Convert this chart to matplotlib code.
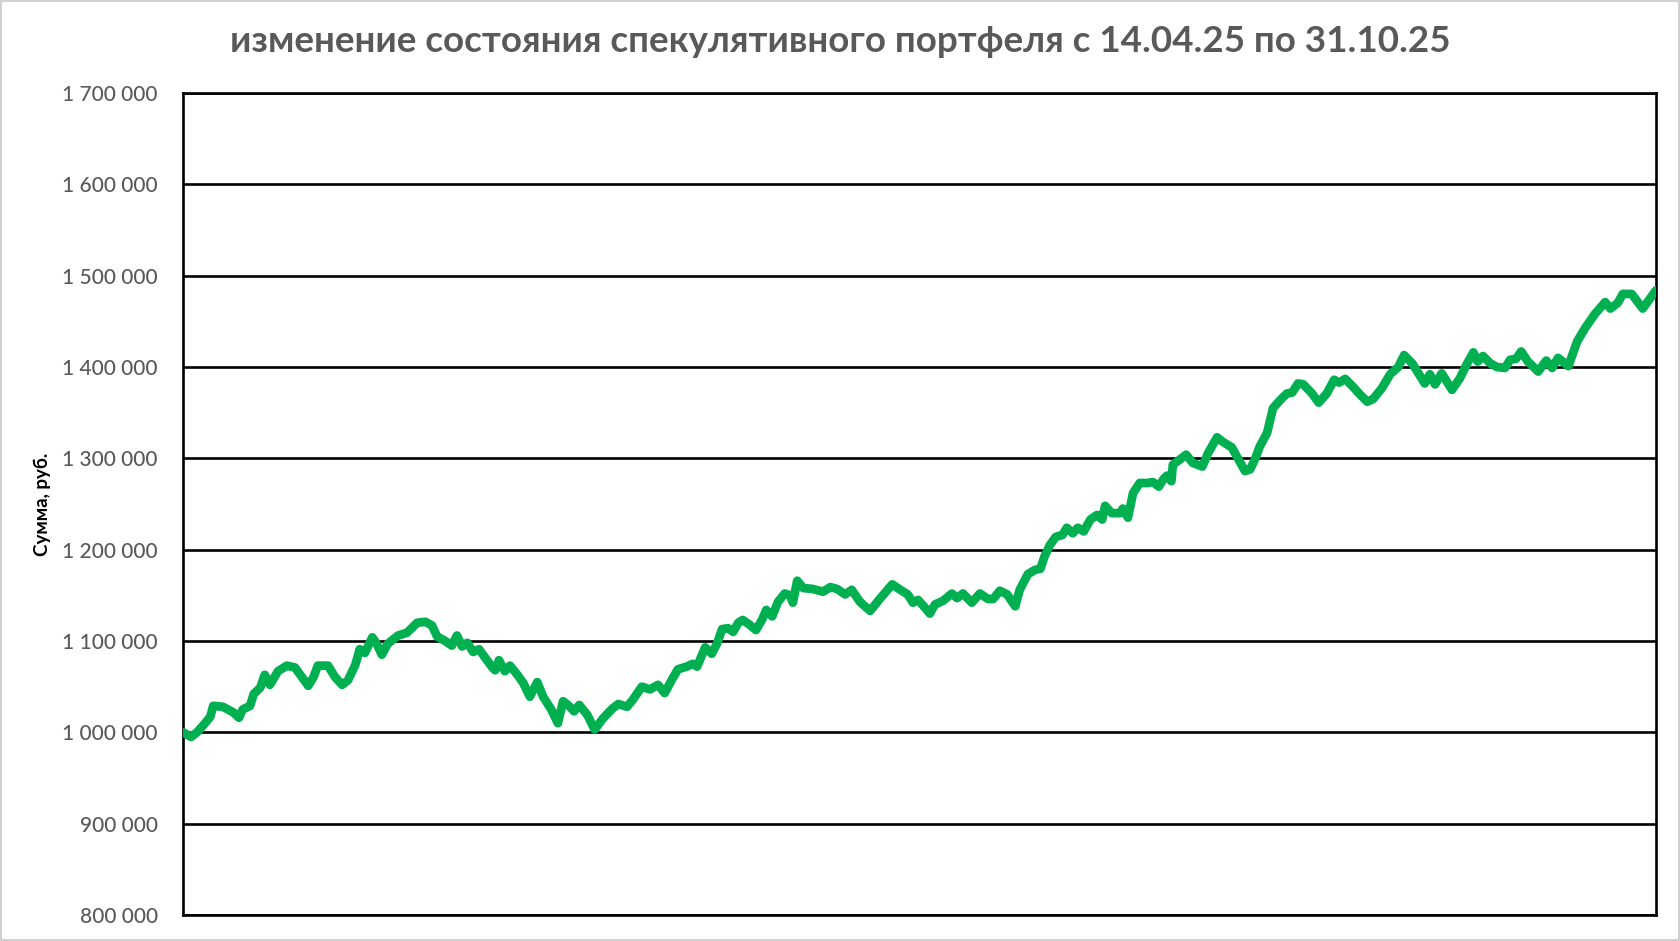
import matplotlib
matplotlib.use("Agg")
import matplotlib.pyplot as plt
from matplotlib.ticker import FuncFormatter, MultipleLocator

# day offset since 14.04.25 and portfolio value (rub.)
days = [0.0, 1.1, 1.9, 3.0, 3.7, 4.1, 5.4, 6.8, 7.6, 8.1, 9.1, 9.6, 10.5, 11.1, 11.8, 12.9,
        14.1, 15.2, 16.2, 17.0, 17.7, 18.3, 19.7, 20.6, 21.6, 22.4, 23.4, 24.0, 24.7, 25.7,
        26.3, 27.0, 27.8, 29.2, 30.4, 31.8, 32.9, 33.8, 34.5, 35.6, 36.5, 37.2, 37.9, 38.6,
        39.4, 40.2, 41.0, 42.0, 42.4, 42.9, 43.7, 44.4, 45.4, 46.2, 47.1, 48.1, 48.9, 50.0,
        50.9, 51.6, 52.4, 53.1, 53.8, 54.9, 55.9, 57.0, 58.3, 59.1, 60.3, 61.1, 62.3, 63.4,
        64.5, 65.4, 66.4, 67.2, 68.4, 69.2, 69.8, 70.9, 71.8, 72.5, 73.2, 74.0, 74.7, 75.4,
        76.0, 76.9, 77.8, 78.6, 79.2, 80.0, 80.8, 81.7, 82.4, 82.8, 83.4, 84.2, 85.5, 86.9,
        87.9, 88.8, 89.9, 90.8, 91.9, 93.3, 94.6, 96.3, 97.4, 98.4, 99.1, 99.8, 100.8, 101.4,
        102.1, 103.2, 104.4, 105.1, 105.9, 107.1, 108.2, 109.3, 110.0, 110.9, 111.9, 113.0,
        113.6, 114.7, 115.7, 116.4, 117.0, 117.7, 118.5, 119.4, 120.0, 120.8, 121.5, 122.3,
        123.2, 124.1, 124.8, 125.2, 126.1, 127.2, 127.6, 128.3, 129.0, 129.9, 130.9, 131.7,
        132.5, 133.1, 133.6, 134.2, 134.4, 135.4, 136.2, 137.1, 138.4, 139.2, 140.4, 141.2,
        142.4, 143.3, 144.2, 144.9, 145.6, 146.2, 147.2, 148.0, 149.0, 149.9, 150.6, 151.4,
        152.1, 153.3, 154.2, 155.3, 156.3, 157.0, 157.8, 158.9, 159.8, 160.8, 161.6, 162.8,
        163.9, 165.0, 165.8, 166.9, 167.6, 168.6, 169.3, 170.0, 170.9, 172.3, 173.4, 174.3,
        175.2, 175.8, 176.5, 177.5, 178.4, 179.5, 180.2, 181.0, 181.7, 182.6, 184.0, 185.1,
        185.9, 186.7, 188.1, 189.3, 190.4, 191.7, 193.1, 193.8, 194.8, 195.5, 196.7, 198.2,
        199.2, 200.0]

values_k = [1000, 995, 1000, 1010, 1017, 1029, 1028, 1022, 1016, 1025, 1029, 1042, 1049, 1063,
            1052, 1067, 1073, 1071, 1060, 1051, 1060, 1073, 1073, 1061, 1052, 1057, 1074, 1091,
            1087, 1104, 1097, 1085, 1097, 1106, 1109, 1120, 1121, 1117, 1105, 1100, 1095, 1106,
            1094, 1098, 1088, 1091, 1082, 1071, 1068, 1079, 1067, 1073, 1063, 1054, 1039, 1055,
            1039, 1025, 1010, 1034, 1029, 1023, 1030, 1019, 1003, 1015, 1026, 1031, 1028, 1036,
            1050, 1047, 1052, 1043, 1058, 1069, 1072, 1075, 1072, 1093, 1086, 1097, 1113, 1114,
            1110, 1120, 1123, 1118, 1112, 1123, 1134, 1127, 1143, 1152, 1150, 1142, 1166, 1158,
            1157, 1154, 1159, 1157, 1151, 1156, 1143, 1133, 1146, 1162, 1156, 1151, 1142, 1145,
            1136, 1130, 1140, 1144, 1152, 1147, 1152, 1142, 1152, 1146, 1146, 1155, 1151, 1138,
            1156, 1173, 1178, 1179, 1193, 1205, 1214, 1216, 1224, 1218, 1224, 1220, 1233, 1238,
            1233, 1248, 1240, 1240, 1245, 1235, 1262, 1273, 1273, 1274, 1269, 1277, 1281, 1275,
            1293, 1299, 1304, 1295, 1291, 1306, 1323, 1318, 1312, 1299, 1286, 1288, 1300, 1313,
            1328, 1355, 1364, 1371, 1372, 1382, 1381, 1371, 1361, 1371, 1386, 1383, 1387, 1378,
            1370, 1362, 1365, 1377, 1392, 1400, 1413, 1404, 1395, 1382, 1392, 1381, 1393, 1375,
            1388, 1403, 1416, 1406, 1412, 1404, 1400, 1399, 1408, 1409, 1417, 1406, 1395, 1407,
            1399, 1410, 1401, 1428, 1443, 1458, 1471, 1464, 1470, 1480, 1480, 1464, 1475, 1484]

values = [v * 1000 for v in values_k]

title = "изменение состояния спекулятивного портфеля с 14.04.25 по 31.10.25"
ylabel = "Сумма, руб."
y_min, y_max, y_step = 800000, 1700000, 100000

plt.rcParams['font.family'] = ['Lato', 'DejaVu Sans']

fig = plt.figure(figsize=(16.8, 9.41), dpi=100)
fig.patch.set_facecolor('white')
fig.patch.set_edgecolor('#d0d0d0')
fig.patch.set_linewidth(1.5)

ax = fig.add_axes([183 / 1680, 1 - 915 / 941, (1656 - 183) / 1680, (915 - 93) / 941])
ax.plot(days, values, color='#00B050', linewidth=6.3, solid_joinstyle='round',
        solid_capstyle='round', zorder=3)

ax.set_xlim(0, 200)
ax.set_ylim(y_min, y_max)
ax.yaxis.set_major_locator(MultipleLocator(y_step))
ax.yaxis.set_major_formatter(FuncFormatter(lambda v, p: f"{int(round(v)):,}".replace(",", " ")))
ax.grid(axis='y', color='black', linewidth=1.9)
ax.set_axisbelow(True)
ax.set_xticks([])
ax.tick_params(axis='y', length=0, pad=18, labelsize=15, labelcolor='#595959')
for lbl in ax.get_yticklabels():
    lbl.set_fontweight('medium')
for s in ax.spines.values():
    s.set_color('black')
    s.set_linewidth(1.9)

ax.set_ylabel(ylabel, fontsize=13.5, color='black', fontweight='bold', labelpad=8)
fig.text(0.5, 1 - 41 / 941, title, ha='center', va='center', fontsize=26.5,
         fontweight='bold', color='#595959')

fig.savefig('out.png', dpi=100, facecolor=fig.get_facecolor(), edgecolor=fig.get_edgecolor())
